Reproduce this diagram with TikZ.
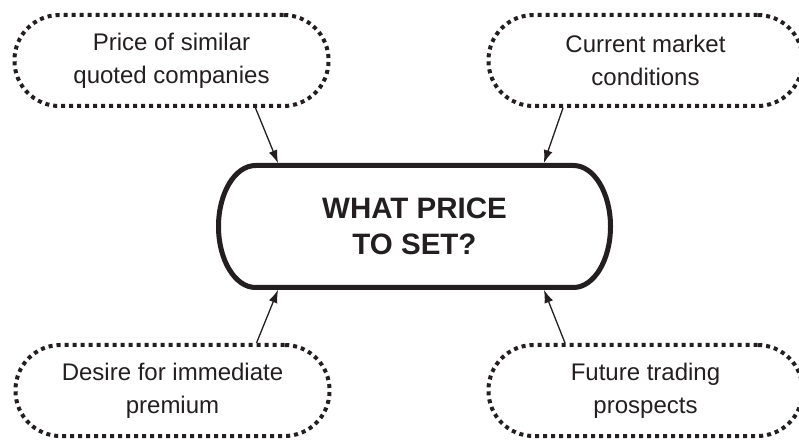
\documentclass[tikz,border=0pt]{standalone}
\usepackage{fontspec}
\setmainfont{Liberation Sans}
\usepackage{tikz}
\usepackage{xcolor}
\definecolor{ink}{RGB}{35, 31, 32}
\usetikzlibrary{calc,positioning,arrows.meta}

\tikzset{
    factor/.style={draw=ink, line width=4pt, dash pattern=on 4pt off 4pt,
        rounded corners=45pt, minimum width=314pt, minimum height=91pt,
        align=center, text=ink, font=\fontsize{24}{33}\selectfont},
    question/.style={minimum width=392pt, minimum height=122pt, outer sep=0pt,
        align=center, text=ink, font=\fontsize{29.5}{36}\selectfont\bfseries},
    influence/.style={draw=ink, line width=1.3pt,
        -{Latex[length=13pt,width=9pt]}, shorten >=2.5pt}
}

\begin{document}
\begin{tikzpicture}[x=1pt, y=1pt]
                \useasboundingbox (0,0) rectangle (799,441);

                % the question in the middle
                \node[question] (q) at (414.5,214.5) {WHAT PRICE\\TO SET?};
                \draw[draw=ink, line width=5pt]
                    ([xshift=37pt]q.north west) -- ([xshift=-37pt]q.north east)
                    arc[start angle=90, end angle=-90, x radius=37pt, y radius=61pt]
                    -- ([xshift=37pt]q.south west)
                    arc[start angle=270, end angle=90, x radius=37pt, y radius=61pt]
                    -- cycle;

                % the four influences
                \node[factor] (similar) at (171.5,380.5) {Price of similar\\quoted companies};
                \node[factor] (market) at (645.5,380.5) {Current market\\conditions};
                \node[factor] (premium) at (172.5,50.5) {Desire for immediate\\premium};
                \node[factor] (prospects) at (645.5,50.5) {Future trading\\prospects};

                \draw[influence] ([xshift=84pt]similar.south) -- ([xshift=-135.5pt]q.north);
                \draw[influence] ([xshift=-82.5pt]market.south) -- ([xshift=128.5pt]q.north);
                \draw[influence] ([xshift=84pt]premium.north) -- ([xshift=-135.5pt]q.south);
                \draw[influence] ([xshift=-80.5pt]prospects.north) -- ([xshift=128.5pt]q.south);
            \end{tikzpicture}
\end{document}
